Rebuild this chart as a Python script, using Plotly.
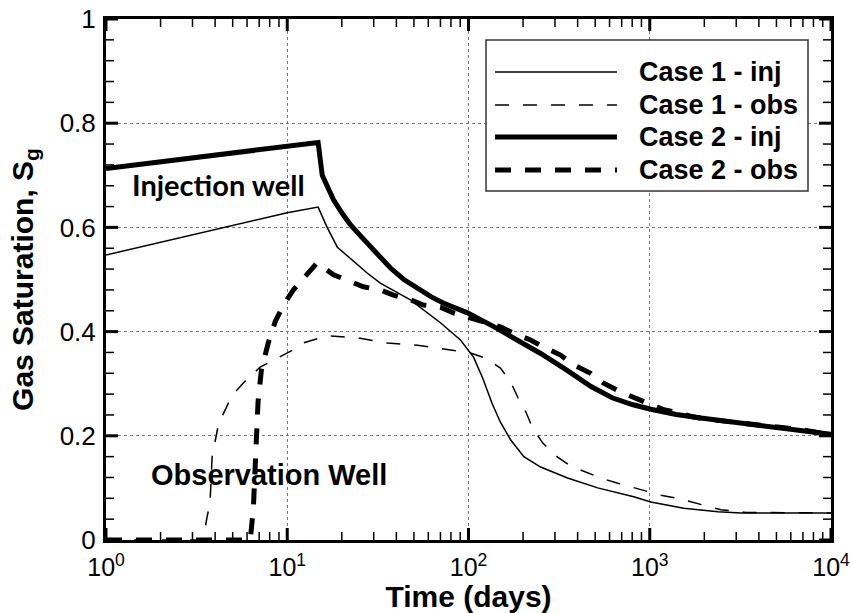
import math
import plotly.graph_objects as go

# ---------------- data ----------------
case1_inj_t = [1, 5.5, 10, 14.8, 16.6, 18.9, 27.7, 32.6, 47.8, 70, 90.3, 106.6, 120, 135, 150,
               171, 202, 250, 352, 516, 816, 1013, 1541, 2377, 3184, 5000, 10000]
case1_inj_s = [0.547, 0.607, 0.628, 0.639, 0.600, 0.562, 0.512, 0.493, 0.461, 0.417, 0.384, 0.351,
               0.310, 0.262, 0.226, 0.192, 0.160, 0.140, 0.119, 0.100, 0.083, 0.073, 0.061, 0.054,
               0.052, 0.052, 0.052]

case1_obs_t = [1, 3.43, 3.61, 3.75, 3.85, 4.0, 4.16, 4.49, 4.97, 5.86, 7.09, 8.37, 10.8, 12.2, 16.6,
               24.4, 35.7, 52.3, 76.6, 102.6, 124, 150, 171, 187, 207, 226, 257, 310, 366, 454, 536,
               666, 785, 975, 1151, 1429, 1686, 2091, 2468, 3390, 10000]
case1_obs_s = [0, 0, 0.044, 0.071, 0.159, 0.186, 0.220, 0.246, 0.278, 0.305, 0.332, 0.345, 0.365,
               0.378, 0.392, 0.388, 0.378, 0.374, 0.365, 0.359, 0.349, 0.330, 0.303, 0.274, 0.246,
               0.215, 0.186, 0.159, 0.142, 0.129, 0.119, 0.109, 0.102, 0.094, 0.086, 0.080, 0.073,
               0.065, 0.058, 0.053, 0.052]

case2_inj_t = [1, 14.8, 15.6, 18, 20, 22.3, 25, 27.7, 32, 37.1, 44, 52.3, 62, 72.6, 85, 98.7, 137,
               186, 250, 352, 472, 620, 800, 1013, 1400, 1914, 2600, 3600, 5000, 6800, 10000]
case2_inj_s = [0.713, 0.763, 0.700, 0.653, 0.628, 0.605, 0.586, 0.570, 0.545, 0.522, 0.500, 0.482,
               0.467, 0.455, 0.445, 0.436, 0.410, 0.384, 0.358, 0.325, 0.295, 0.273, 0.260, 0.251,
               0.241, 0.234, 0.228, 0.222, 0.216, 0.211, 0.203]

case2_obs_t = [1, 6.25, 6.5, 6.7, 6.9, 7.2, 7.85, 8.6, 9.5, 10.8, 12.9, 14.6, 18, 22.3, 26.3, 32.6,
               38.5, 47.8, 56.4, 70, 82.6, 150, 177, 220, 260, 322, 380, 472, 557, 691, 816, 1013,
               1195, 1483, 1750, 2173, 3184, 4665, 6826, 10000]
case2_obs_s = [0, 0, 0.060, 0.200, 0.265, 0.326, 0.378, 0.420, 0.450, 0.480, 0.512, 0.532, 0.509,
               0.495, 0.486, 0.480, 0.470, 0.461, 0.451, 0.447, 0.436, 0.409, 0.397, 0.384, 0.370,
               0.355, 0.336, 0.320, 0.301, 0.284, 0.273, 0.259, 0.250, 0.243, 0.236, 0.231, 0.224,
               0.218, 0.212, 0.202]

series_names = ["Case 1 - inj", "Case 1 - obs", "Case 2 - inj", "Case 2 - obs"]
x_tickvals = [1, 10, 100, 1000, 10000]
x_ticktext = ["10<sup>0</sup>", "10<sup>1</sup>", "10<sup>2</sup>", "10<sup>3</sup>", "10<sup>4</sup>"]
x_minor_vals = [m * 10 ** d for d in range(4) for m in range(2, 10)]
y_tickvals = [0, 0.2, 0.4, 0.6, 0.8, 1.0]
y_ticktext = ["0", "0.2", "0.4", "0.6", "0.8", "1"]
y_minor_vals = [round(0.04 * i, 2) for i in range(26) if i % 5 != 0]

# ---------------- styles ----------------
FONT = "Liberation Sans, Arial, sans-serif"
styles = [
    dict(width=1.5, dash="solid"),
    dict(width=1.5, dash="14px,14px"),
    dict(width=5, dash="solid"),
    dict(width=5, dash="16px,14px"),
]
data = [
    (case1_inj_t, case1_inj_s),
    (case1_obs_t, case1_obs_s),
    (case2_inj_t, case2_inj_s),
    (case2_obs_t, case2_obs_s),
]

fig = go.Figure()
for (t, s), name, st in zip(data, series_names, styles):
    fig.add_trace(go.Scatter(x=t, y=s, mode="lines", name=name, showlegend=False,
                             line=dict(color="black", width=st["width"], dash=st["dash"])))

W, H = 851, 613
ML, MR, MT, MB = 106, 20, 19, 73
PW, PH = W - ML - MR, H - MT - MB
XR = [0, 4]
YR = [0, 1]


def px(xp):
    return (xp - ML) / PW


def py(yp):
    return (H - MB - yp) / PH


def xfrac(v):
    return (math.log10(v) - XR[0]) / (XR[1] - XR[0])


def yfrac(v):
    return (v - YR[0]) / (YR[1] - YR[0])


shapes = []
# inward tick marks on all four sides
for vals, ln, wd in ((x_tickvals, 12, 3), (x_minor_vals, 8, 1.5)):
    for v in vals:
        f = xfrac(v)
        for base, sign in ((0, 1), (1, -1)):
            shapes.append(dict(type="line", xref="paper", yref="paper", x0=f, x1=f,
                               y0=base, y1=base + sign * ln / PH, layer="above",
                               line=dict(color="black", width=wd)))
for vals, ln, wd in ((y_tickvals, 12, 3), (y_minor_vals, 8, 1.5)):
    for v in vals:
        f = yfrac(v)
        for base, sign in ((0, 1), (1, -1)):
            shapes.append(dict(type="line", xref="paper", yref="paper", y0=f, y1=f,
                               x0=base, x1=base + sign * ln / PW, layer="above",
                               line=dict(color="black", width=wd)))

# manual legend (box, line samples, labels)
shapes.append(dict(type="rect", xref="paper", yref="paper", x0=px(486), x1=px(808), y0=py(191), y1=py(40),
                   line=dict(color="#333", width=1.5), fillcolor="white", layer="above"))
annotations = []
rows = [72, 105, 137, 170]
for name, st, ry in zip(series_names, styles, rows):
    shapes.append(dict(type="line", xref="paper", yref="paper", x0=px(495), x1=px(617),
                       y0=py(ry), y1=py(ry), layer="above",
                       line=dict(color="black", width=st["width"], dash=st["dash"])))
    annotations.append(dict(xref="paper", yref="paper", x=px(637), y=py(ry), xanchor="left",
                            yanchor="middle", text="<b>%s</b>" % name, showarrow=False,
                            font=dict(family=FONT, size=27, color="black")))

annotations.append(dict(xref="paper", yref="paper", x=px(218), y=py(185), text="<b>Injection well</b>",
                        showarrow=False, xanchor="center", yanchor="middle",
                        font=dict(family="Lato, Liberation Sans, sans-serif", size=29, color="black")))
annotations.append(dict(xref="paper", yref="paper", x=px(269), y=py(475), text="<b>Observation Well</b>",
                        showarrow=False, xanchor="center", yanchor="middle",
                        font=dict(family=FONT, size=29, color="black")))

fig.update_layout(
    width=W, height=H,
    margin=dict(l=ML, r=MR, t=MT, b=MB),
    paper_bgcolor="white", plot_bgcolor="white",
    font=dict(family=FONT, color="black"),
    shapes=shapes, annotations=annotations,
)
fig.update_xaxes(
    type="log", range=XR, automargin=False,
    tickmode="array", tickvals=x_tickvals, ticktext=x_ticktext,
    tickfont=dict(size=25, family=FONT), ticklabelstandoff=3, ticks="",
    showline=True, linewidth=3, linecolor="black", mirror=True,
    showgrid=True, gridcolor="#777", griddash="dot", gridwidth=1,
    title=dict(text="<b>Time (days)</b>", font=dict(size=30, family=FONT), standoff=0),
    zeroline=False,
)
fig.update_yaxes(
    range=YR, automargin=False,
    tickmode="array", tickvals=y_tickvals, ticktext=y_ticktext,
    tickfont=dict(size=26, family=FONT), ticklabelstandoff=2, ticks="",
    showline=True, linewidth=3, linecolor="black", mirror=True,
    showgrid=True, gridcolor="#777", griddash="dot", gridwidth=1,
    title=dict(text="<b>Gas Saturation, S<sub>g</sub></b>", font=dict(size=30, family=FONT), standoff=18),
    zeroline=False,
)

fig.write_html("out.html")
